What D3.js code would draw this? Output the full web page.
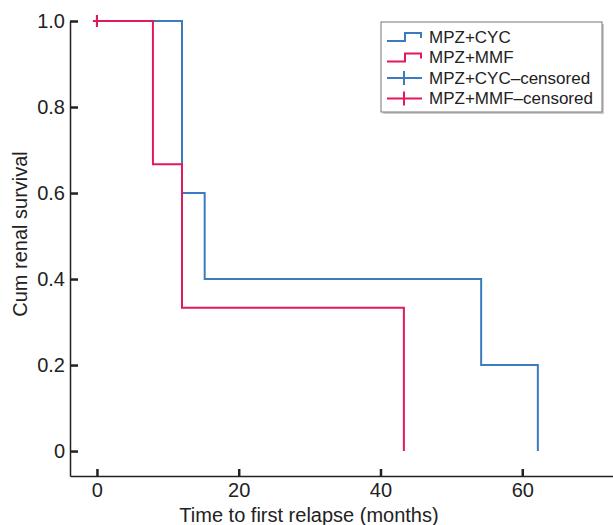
<!DOCTYPE html>
<html>
<head>
<script src="https://d3js.org/d3.v7.min.js"></script>
<style>
  body { margin: 0; background: #fff; }
  text { font-family: "Liberation Sans", Arial, sans-serif; fill: #222; }
</style>
</head>
<body>
<div id="chart"></div>
<script>
// step data: [time, survival]
var cycSteps = [[0, 1.0], [12, 1.0], [12, 0.6], [15.2, 0.6], [15.2, 0.4], [54.2, 0.4], [54.2, 0.2], [62.2, 0.2], [62.2, 0]];
var mmfSteps = [[0, 1.0], [7.9, 1.0], [7.9, 0.667], [12, 0.667], [12, 0.333], [43.3, 0.333], [43.3, 0]];
var cycCensored = [[0, 1.0]];
var mmfCensored = [[0, 1.0]];
var xTicks = [0, 20, 40, 60];
var yTicks = [0, 0.2, 0.4, 0.6, 0.8, 1.0];
var legendLabels = ["MPZ+CYC", "MPZ+MMF", "MPZ+CYC\u2013censored", "MPZ+MMF\u2013censored"];

var blue = "#3b7cc0", pink = "#e2195e";

var width = 613, height = 525;
var svg = d3.select("#chart").append("svg")
  .attr("width", width).attr("height", height);

var x = d3.scaleLinear().domain([-3.8, 72.8]).range([70, 613]);
var y = d3.scaleLinear().domain([-0.058, 1]).range([476, 21]);

// axes
var xAxis = svg.append("g")
  .attr("transform", "translate(0,476)")
  .call(d3.axisBottom(x).tickValues(xTicks).tickSizeInner(-7).tickSizeOuter(0).tickPadding(7));
var yAxis = svg.append("g")
  .attr("transform", "translate(70,0)")
  .call(d3.axisLeft(y).tickValues(yTicks).tickSizeInner(-8).tickSizeOuter(0).tickPadding(5)
    .tickFormat(function(d) { return d === 0 ? "0" : d3.format(".1f")(d); }));

[xAxis, yAxis].forEach(function(a) {
  a.select(".domain").attr("stroke", "#222").attr("stroke-width", 1.5);
  a.selectAll(".tick line").attr("stroke", "#222").attr("stroke-width", 2.5);
  a.selectAll(".tick text").style("font-size", "20px").attr("fill", "#222");
});

// axis titles
svg.append("text")
  .attr("x", 309).attr("y", 522)
  .attr("text-anchor", "middle")
  .style("font-size", "20px")
  .text("Time to first relapse (months)");
svg.append("text")
  .attr("transform", "translate(27,234) rotate(-90)")
  .attr("text-anchor", "middle")
  .style("font-size", "20px")
  .text("Cum renal survival");

var line = d3.line()
  .x(function(d) { return x(d[0]); })
  .y(function(d) { return y(d[1]); });

svg.append("path").attr("d", line(cycSteps))
  .attr("fill", "none").attr("stroke", blue).attr("stroke-width", 2);
svg.append("path").attr("d", line(mmfSteps))
  .attr("fill", "none").attr("stroke", pink).attr("stroke-width", 2);

function censor(data, color) {
  data.forEach(function(d) {
    svg.append("line")
      .attr("x1", x(d[0])).attr("x2", x(d[0]))
      .attr("y1", y(d[1]) - 6).attr("y2", y(d[1]) + 6)
      .attr("stroke", color).attr("stroke-width", 2);
    svg.append("line")
      .attr("x1", x(d[0]) - 4).attr("x2", x(d[0]) + 4)
      .attr("y1", y(d[1])).attr("y2", y(d[1]))
      .attr("stroke", color).attr("stroke-width", 2);
  });
}
censor(cycCensored, blue);
censor(mmfCensored, pink);

// legend
var lg = svg.append("g");
lg.append("rect").attr("x", 383).attr("y", 24).attr("width", 221).attr("height", 90)
  .attr("fill", "#ccc");
lg.append("rect").attr("x", 381).attr("y", 22).attr("width", 221).attr("height", 90)
  .attr("fill", "#fff").attr("stroke", "#777").attr("stroke-width", 1);

var legendColors = [blue, pink, blue, pink];
legendLabels.forEach(function(label, i) {
  var cy = 37 + i * 20.5;
  var c = legendColors[i];
  if (i < 2) {
    lg.append("path")
      .attr("d", "M387," + (cy + 4) + "H405V" + (cy - 4) + "H421V" + (cy + 1))
      .attr("fill", "none").attr("stroke", c).attr("stroke-width", 2);
  } else {
    lg.append("line").attr("x1", 387).attr("x2", 422).attr("y1", cy).attr("y2", cy)
      .attr("stroke", c).attr("stroke-width", 2);
    lg.append("line").attr("x1", 404).attr("x2", 404).attr("y1", cy - 7).attr("y2", cy + 7)
      .attr("stroke", c).attr("stroke-width", 2);
  }
  lg.append("text").attr("x", 429).attr("y", cy).attr("dy", "0.35em")
    .style("font-size", "17px").text(label);
});
</script>
</body>
</html>
